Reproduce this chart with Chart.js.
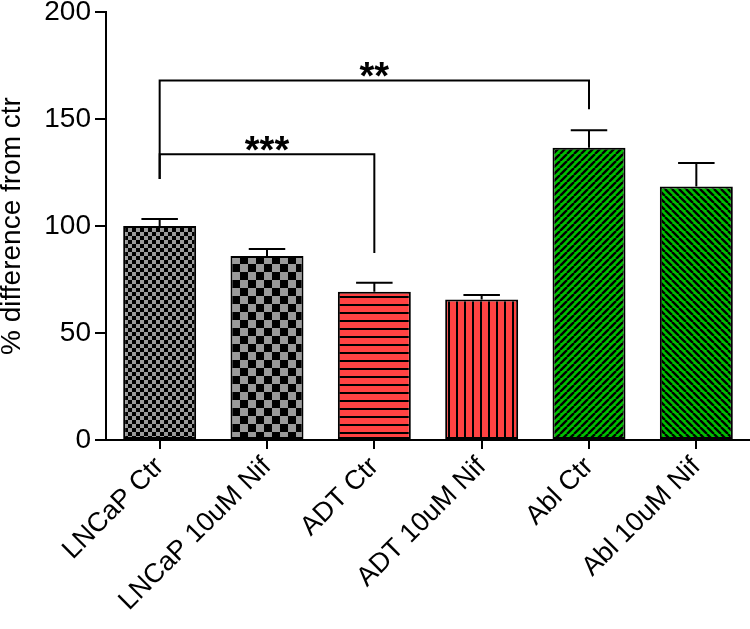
<!DOCTYPE html>
<html>
<head>
<meta charset="utf-8">
<script src="https://cdn.jsdelivr.net/npm/chart.js@4.4.0/dist/chart.umd.min.js"></script>
<style>
  html, body { margin: 0; padding: 0; background: #fff; }
  #wrap { width: 750px; height: 629px; }
</style>
</head>
<body>
<div id="wrap"><canvas id="c"></canvas></div>
<script>
// data
const labels = ['LNCaP Ctr', 'LNCaP 10uM Nif', 'ADT Ctr', 'ADT 10uM Nif', 'Abl Ctr', 'Abl 10uM Nif'];
const means = [100, 86, 69.3, 65.7, 136.6, 118.4];
const errUp = [3.3, 3.3, 4.2, 2.1, 8.1, 11];
const yTicks = [0, 50, 100, 150, 200];

// significance brackets
const sigFrom = [0, 0];
const sigTo = [2, 4];
const sigLevel = [133.5, 168];
const sigLeftEnd = [122, 122];
const sigRightEnd = [87.4, 154.5];
const sigText = ['***', '**'];

const FONT = "'Liberation Sans', Arial, Helvetica, sans-serif";
const GRAY = '#9a9a9a';
const RED = '#ff4242';
const GREEN = '#00bf00';

// fill patterns
function tile(w, h) {
  const c = document.createElement('canvas');
  c.width = w; c.height = h;
  return [c, c.getContext('2d')];
}

function checker(s, a, b) {
  const [c, g] = tile(s * 2, s * 2);
  g.fillStyle = a; g.fillRect(0, 0, s * 2, s * 2);
  g.fillStyle = b; g.fillRect(0, 0, s, s); g.fillRect(s, s, s, s);
  return g.createPattern(c, 'repeat');
}

function hLines(p, lw, bg) {
  const [c, g] = tile(4, p);
  g.fillStyle = bg; g.fillRect(0, 0, 4, p);
  g.fillStyle = '#000'; g.fillRect(0, 0, 4, lw);
  return g.createPattern(c, 'repeat');
}

function vLines(p, lw, bg) {
  const [c, g] = tile(p, 4);
  g.fillStyle = bg; g.fillRect(0, 0, p, 4);
  g.fillStyle = '#000'; g.fillRect(0, 0, lw, 4);
  return g.createPattern(c, 'repeat');
}

function diag(p, lw, bg, up) {
  const [c, g] = tile(p, p);
  g.fillStyle = bg; g.fillRect(0, 0, p, p);
  g.strokeStyle = '#000'; g.lineWidth = lw;
  g.beginPath();
  for (const o of [-p, 0, p]) {
    if (up) { g.moveTo(o, p); g.lineTo(o + p, 0); }
    else { g.moveTo(o, 0); g.lineTo(o + p, p); }
  }
  g.stroke();
  return g.createPattern(c, 'repeat');
}

const fills = [
  checker(4, GRAY, '#000'),
  checker(8, GRAY, '#000'),
  hLines(8.5, 2, RED),
  vLines(8.3, 2, RED),
  diag(7, 2.4, GREEN, true),
  diag(7, 2.4, GREEN, false)
];

// error bars + significance brackets
const annotations = {
  id: 'annotations',
  afterDatasetsDraw(chart) {
    const ctx = chart.ctx;
    const x = chart.scales.x, y = chart.scales.y;
    const meta = chart.getDatasetMeta(0);
    ctx.save();
    ctx.strokeStyle = '#000';
    ctx.lineWidth = 2;
    ctx.lineCap = 'butt';
    means.forEach((m, i) => {
      const cx = x.getPixelForValue(i);
      const top = y.getPixelForValue(m + errUp[i]);
      const half = meta.data[i].width * 0.25;
      ctx.beginPath();
      ctx.moveTo(cx, y.getPixelForValue(m));
      ctx.lineTo(cx, top);
      ctx.moveTo(cx - half, top);
      ctx.lineTo(cx + half, top);
      ctx.stroke();
    });
    sigText.forEach((t, k) => {
      const x1 = x.getPixelForValue(sigFrom[k]);
      const x2 = x.getPixelForValue(sigTo[k]);
      const yl = y.getPixelForValue(sigLevel[k]);
      ctx.beginPath();
      ctx.moveTo(x1, y.getPixelForValue(sigLeftEnd[k]));
      ctx.lineTo(x1, yl);
      ctx.lineTo(x2, yl);
      ctx.lineTo(x2, y.getPixelForValue(sigRightEnd[k]));
      ctx.stroke();
      ctx.fillStyle = '#000';
      ctx.font = 'bold 38px ' + FONT;
      ctx.textAlign = 'center';
      ctx.textBaseline = 'alphabetic';
      ctx.fillText(t, (x1 + x2) / 2, yl + 9);
    });
    ctx.restore();
  }
};

new Chart(document.getElementById('c'), {
  type: 'bar',
  data: {
    labels,
    datasets: [{
      data: means,
      backgroundColor: fills,
      borderColor: '#000',
      borderWidth: 2,
      borderSkipped: false,
      barPercentage: 0.68,
      categoryPercentage: 1
    }]
  },
  options: {
    responsive: true,
    maintainAspectRatio: false,
    animation: false,
    layout: { padding: 0 },
    plugins: {
      legend: { display: false },
      tooltip: { enabled: false }
    },
    scales: {
      x: {
        offset: true,
        afterFit(s) { s.height = 189; },
        border: { display: true, color: '#000', width: 2 },
        grid: { display: true, drawOnChartArea: false, offset: false, color: '#000', lineWidth: 2, tickLength: 9 },
        ticks: {
          color: '#000',
          font: { family: FONT, size: 27 },
          minRotation: 45,
          maxRotation: 45,
          autoSkip: false,
          padding: 2
        }
      },
      y: {
        min: 0,
        max: 200,
        afterFit(s) { s.width = 106; s.paddingTop = 12; s.paddingBottom = 0; },
        afterBuildTicks(s) { s.ticks = yTicks.map(v => ({ value: v })); },
        border: { display: true, color: '#000', width: 2 },
        grid: { display: true, drawOnChartArea: false, color: '#000', lineWidth: 2, tickLength: 11 },
        ticks: {
          color: '#000',
          font: { family: FONT, size: 28 },
          padding: 4
        },
        title: {
          display: true,
          text: '% difference from ctr',
          color: '#000',
          font: { family: FONT, size: 28, lineHeight: 0.9 },
          padding: 0
        }
      }
    }
  },
  plugins: [annotations]
});
</script>
</body>
</html>
